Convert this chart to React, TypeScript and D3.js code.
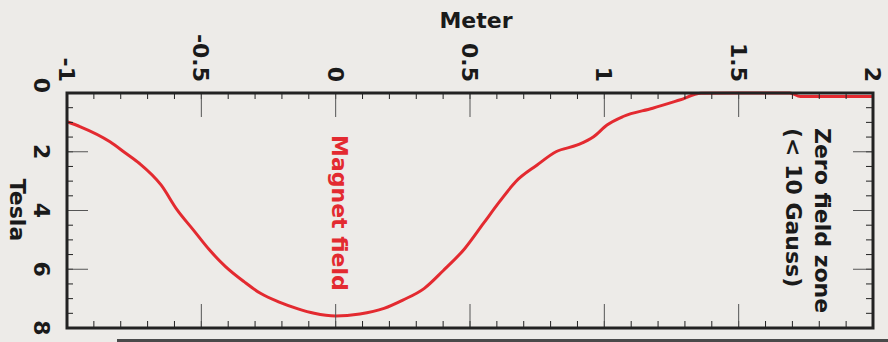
import * as d3 from "d3";

// Magnet field profile (position in meters, field in tesla)
const meters = [
  -1.0, -0.95, -0.84, -0.78, -0.73, -0.65, -0.59, -0.53, -0.47, -0.41, -0.34,
  -0.28, -0.21, -0.14, -0.08, 0.0, 0.09, 0.18, 0.25, 0.33, 0.4, 0.48, 0.55,
  0.61, 0.67, 0.75, 0.82, 0.9, 0.96, 1.01, 1.07, 1.18, 1.28, 1.36, 1.5, 1.69,
  1.73, 1.85, 2.0,
];
const tesla = [
  0.98, 1.15, 1.66, 2.06, 2.4, 3.13, 3.98, 4.66, 5.34, 5.91, 6.43, 6.82, 7.12,
  7.35, 7.5, 7.59, 7.52, 7.33, 7.05, 6.65, 6.05, 5.3, 4.44, 3.7, 3.02, 2.45,
  2.0, 1.77, 1.49, 1.09, 0.8, 0.52, 0.24, 0.01, 0.0, 0.0, 0.12, 0.12, 0.12,
];

const xTickValues = [-1, -0.5, 0, 0.5, 1, 1.5, 2];
const xTickLabels = ["-1", "-0.5", "0", "0.5", "1", "1.5", "2"];
const yTickValues = [0, 2, 4, 6, 8];
const yTickLabels = ["0", "2", "4", "6", "8"];

const W = 888;
const H = 342;
const left = 67;
const right = 873;
const top = 93;
const bottom = 328;

const font = "'DejaVu Sans', sans-serif";
const red = "#e32a30";
const ink = "#222";

export default function App() {
  const x = d3.scaleLinear().domain([-1, 2]).range([left, right]);
  const y = d3.scaleLinear().domain([0, 8]).range([top, bottom]);

  const line = d3
    .line<number>()
    .x((_, i) => x(meters[i]))
    .y((d) => y(d))
    .curve(d3.curveMonotoneX);

  // minor ticks every 0.1 m / 0.5 T, long ticks on the labelled values
  const xMinor = x.ticks(30);
  const yMinor = y.ticks(16);
  const xMajor = xTickValues.slice(1, -1);
  const yMajor = yTickValues.slice(1, -1);

  return (
    <div style={{ position: "fixed", left: 0, top: 0 }}>
      <svg width={W} height={H} viewBox={`0 0 ${W} ${H}`} style={{ display: "block" }}>
        <rect width={W} height={H} fill="#edebe8" />

        <path d={line(tesla) ?? ""} fill="none" stroke={red} strokeWidth={3} strokeLinejoin="round" />

        {/* minor ticks */}
        <g stroke={ink} strokeWidth={1}>
          {xMinor.map((v, i) => (
            <g key={"xm" + i}>
              <line x1={x(v)} x2={x(v)} y1={top} y2={top + 6} />
              <line x1={x(v)} x2={x(v)} y1={bottom} y2={bottom - 7} />
            </g>
          ))}
          {yMinor.map((v, i) => (
            <g key={"ym" + i}>
              <line x1={left} x2={left + 6} y1={y(v)} y2={y(v)} />
              <line x1={right} x2={right - 7} y1={y(v)} y2={y(v)} />
            </g>
          ))}
        </g>
        {/* long ticks */}
        <g stroke="#555" strokeWidth={1}>
          {xMajor.map((v, i) => (
            <g key={"xM" + i}>
              <line x1={x(v)} x2={x(v)} y1={top} y2={top + 24} />
              <line x1={x(v)} x2={x(v)} y1={bottom} y2={bottom - 24} />
            </g>
          ))}
          {yMajor.map((v, i) => (
            <g key={"yM" + i}>
              <line x1={left} x2={left + 21} y1={y(v)} y2={y(v)} />
              <line x1={right} x2={right - 20} y1={y(v)} y2={y(v)} />
            </g>
          ))}
        </g>

        <rect
          x={left}
          y={top}
          width={right - left}
          height={bottom - top}
          fill="none"
          stroke={ink}
          strokeWidth={3}
        />

        {/* tick labels, rotated like the scan */}
        <g fontFamily={font} fontWeight="bold" fontSize={22} fill="#1a1a1a">
          {xTickValues.map((v, i) => (
            <text
              key={"xl" + i}
              transform={`translate(${x(v) - 8},82) rotate(90)`}
              textAnchor="end"
            >
              {xTickLabels[i]}
            </text>
          ))}
          {yTickValues.map((v, i) => (
            <text
              key={"yl" + i}
              transform={`translate(34,${y(v)}) rotate(90)`}
              textAnchor={i === 0 ? "end" : "middle"}
            >
              {yTickLabels[i]}
            </text>
          ))}
          <text x={476} y={28} textAnchor="middle">
            Meter
          </text>
          <text transform="translate(10,210) rotate(90)" textAnchor="middle">
            Tesla
          </text>
          <text transform="translate(815,128) rotate(90)">Zero field zone</text>
          <text transform="translate(786,128) rotate(90)">(&lt; 10 Gauss)</text>
          <text transform="translate(332,135) rotate(90)" fill={red}>
            Magnet field
          </text>
        </g>

        <rect x={117} y={339} width={W - 117} height={3} fill="#4a4a4a" />
      </svg>
    </div>
  );
}
